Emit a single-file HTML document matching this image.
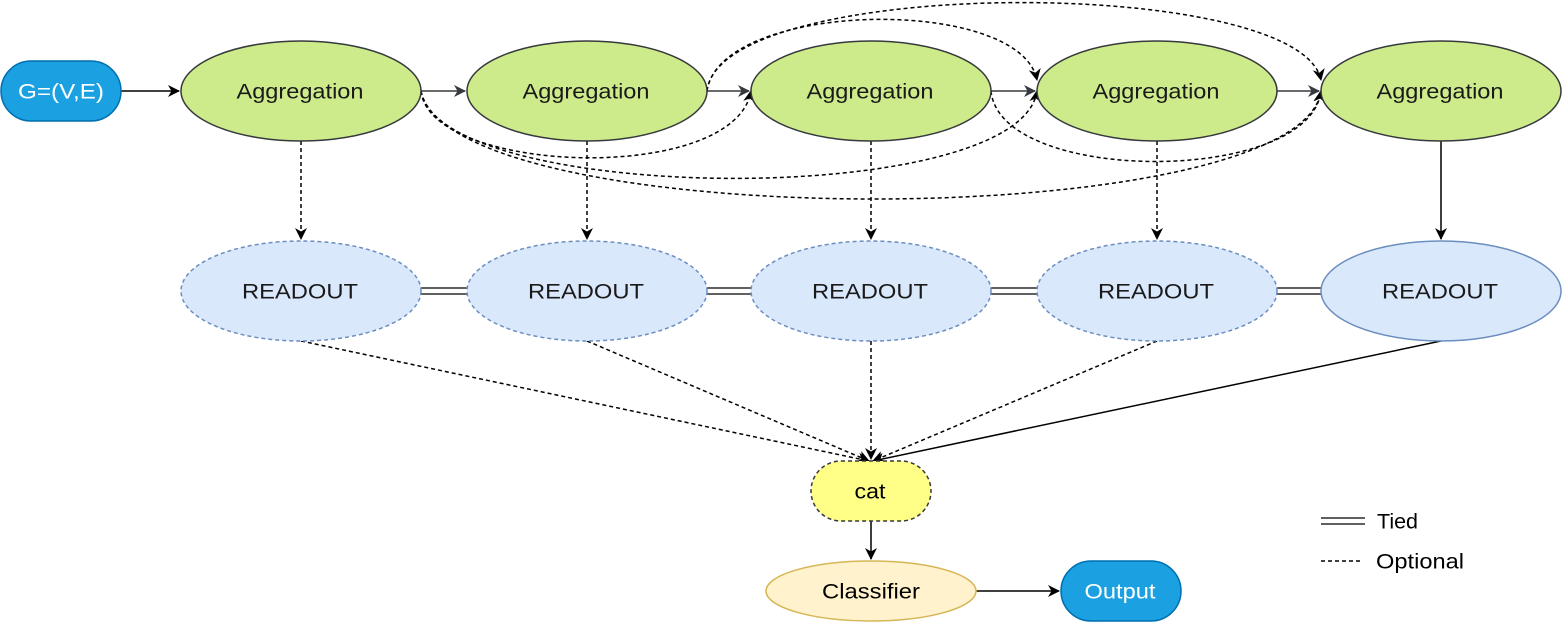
<!DOCTYPE html>
<html><head><style>body{margin:0;background:#fff}svg{display:block}text{font-family:"Liberation Sans",sans-serif;font-size:21px;text-anchor:middle;dominant-baseline:central}</style></head><body>
<svg width="1562" height="622" viewBox="0 0 1562 622" xmlns="http://www.w3.org/2000/svg">
<defs>
<marker id="a" markerWidth="12" markerHeight="12" refX="11" refY="6" orient="auto" markerUnits="userSpaceOnUse"><path d="M0,0 L12,6 L0,12 L3.5,6 Z" fill="#000"/></marker>
<marker id="g" markerWidth="12" markerHeight="12" refX="11" refY="6" orient="auto" markerUnits="userSpaceOnUse"><path d="M0,0 L12,6 L0,12 L3.5,6 Z" fill="#36393d"/></marker>
</defs>
<g fill="none" stroke="#000" stroke-width="1.5">
<path d="M121,91 H179" marker-end="url(#a)"/>
<path d="M421,91 H465" stroke="#36393d" marker-end="url(#g)"/>
<path d="M707,91 H749" stroke="#36393d" marker-end="url(#g)"/>
<path d="M991,91 H1035" stroke="#36393d" marker-end="url(#g)"/>
<path d="M1277,91 H1319" stroke="#36393d" marker-end="url(#g)"/>
<g stroke-dasharray="4 3">
<path d="M421,91 C430,175 735,185 751,91" marker-end="url(#a)"/>
<path d="M421,91 C440,205 1020,210 1037,91" marker-end="url(#a)"/>
<path d="M421,91 C450,235 1300,235 1321,91" marker-end="url(#a)"/>
<path d="M707,91 C720,0 1020,-5 1037,80" marker-end="url(#a)"/>
<path d="M707,91 C720,-25 1300,-25 1321,80" marker-end="url(#a)"/>
<path d="M991,91 C1000,185 1310,185 1321,91" marker-end="url(#a)"/>
<path d="M301,141 V239" marker-end="url(#a)"/>
<path d="M587,141 V239" marker-end="url(#a)"/>
<path d="M871,141 V239" marker-end="url(#a)"/>
<path d="M1157,141 V239" marker-end="url(#a)"/>
<path d="M301,341 L869,461" marker-end="url(#a)"/>
<path d="M587,341 L869,461" marker-end="url(#a)"/>
<path d="M871,341 V459" marker-end="url(#a)"/>
<path d="M1157,341 L873,461" marker-end="url(#a)"/>
<path d="M1321,561 H1361"/>
</g>
<path d="M1441,141 V239" marker-end="url(#a)"/>
<path d="M1441,341 L873,461" marker-end="url(#a)"/>
<path d="M871,521 V559" marker-end="url(#a)"/>
<path d="M976,591 H1059" marker-end="url(#a)"/>
<g stroke-width="1.2">
<path d="M421,288 H467 M421,294 H467"/><path d="M707,288 H751 M707,294 H751"/>
<path d="M991,288 H1037 M991,294 H1037"/><path d="M1277,288 H1321 M1277,294 H1321"/>
<path d="M1321,518 H1365 M1321,524 H1365"/>
</g>
</g>
<rect x="1" y="61" width="120" height="60" rx="30" fill="#1ba1e2" stroke="#006eaf" stroke-width="1.5"/>
<text x="61" y="92" fill="#fff" textLength="86" lengthAdjust="spacingAndGlyphs">G=(V,E)</text>
<g fill="#cdeb8b" stroke="#36393d" stroke-width="1.5">
<ellipse cx="301" cy="91" rx="120" ry="50"/><ellipse cx="587" cy="91" rx="120" ry="50"/><ellipse cx="871" cy="91" rx="120" ry="50"/><ellipse cx="1157" cy="91" rx="120" ry="50"/><ellipse cx="1441" cy="91" rx="120" ry="50"/>
</g>
<g fill="#dae8fc" stroke="#6c8ebf" stroke-width="1.5">
<g stroke-dasharray="4 3"><ellipse cx="301" cy="291" rx="120" ry="50"/><ellipse cx="587" cy="291" rx="120" ry="50"/><ellipse cx="871" cy="291" rx="120" ry="50"/><ellipse cx="1157" cy="291" rx="120" ry="50"/></g>
<ellipse cx="1441" cy="291" rx="120" ry="50"/>
</g>
<g fill="#1a1a1a">
<text x="300" y="92" textLength="127" lengthAdjust="spacingAndGlyphs">Aggregation</text><text x="586" y="92" textLength="127" lengthAdjust="spacingAndGlyphs">Aggregation</text><text x="870" y="92" textLength="127" lengthAdjust="spacingAndGlyphs">Aggregation</text><text x="1156" y="92" textLength="127" lengthAdjust="spacingAndGlyphs">Aggregation</text><text x="1440" y="92" textLength="127" lengthAdjust="spacingAndGlyphs">Aggregation</text>
<text x="300" y="292" textLength="116" lengthAdjust="spacingAndGlyphs">READOUT</text><text x="586" y="292" textLength="116" lengthAdjust="spacingAndGlyphs">READOUT</text><text x="870" y="292" textLength="116" lengthAdjust="spacingAndGlyphs">READOUT</text><text x="1156" y="292" textLength="116" lengthAdjust="spacingAndGlyphs">READOUT</text><text x="1440" y="292" textLength="116" lengthAdjust="spacingAndGlyphs">READOUT</text>
</g>
<rect x="811" y="461" width="120" height="60" rx="30" fill="#ffff88" stroke="#36393d" stroke-width="1.5" stroke-dasharray="4 3"/>
<text x="870" y="492" textLength="31" lengthAdjust="spacingAndGlyphs">cat</text>
<ellipse cx="871" cy="591" rx="105" ry="30" fill="#fff2cc" stroke="#d6b656" stroke-width="1.5"/>
<text x="871" y="592" textLength="98" lengthAdjust="spacingAndGlyphs">Classifier</text>
<rect x="1061" y="561" width="120" height="60" rx="30" fill="#1ba1e2" stroke="#006eaf" stroke-width="1.5"/>
<text x="1120" y="592" fill="#fff" textLength="71" lengthAdjust="spacingAndGlyphs">Output</text>
<text x="1377" y="522" style="text-anchor:start" textLength="41" lengthAdjust="spacingAndGlyphs">Tied</text>
<text x="1376" y="562" style="text-anchor:start" textLength="88" lengthAdjust="spacingAndGlyphs">Optional</text>
</svg>
</body></html>
